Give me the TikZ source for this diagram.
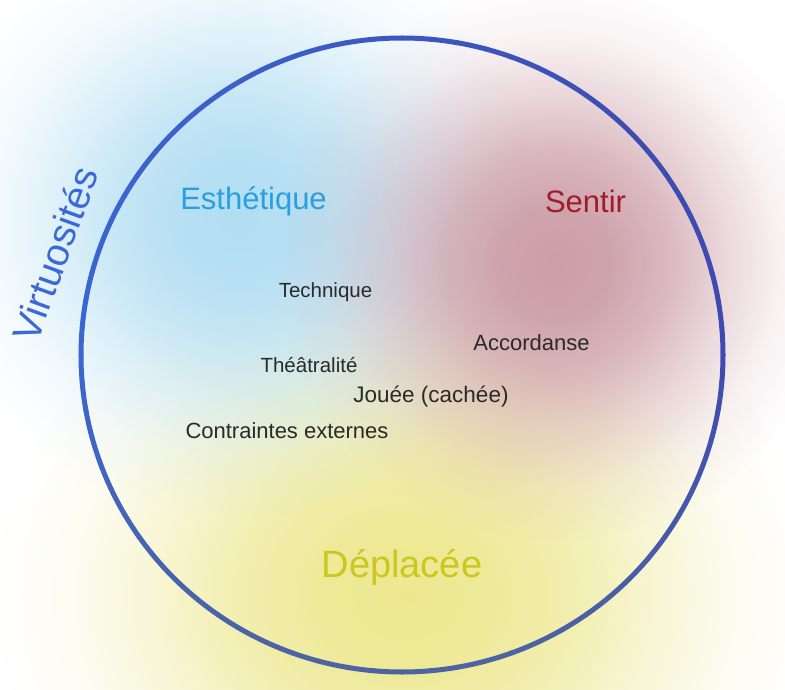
\documentclass[tikz,border=0pt]{standalone}
\usepackage{fontspec}
\setmainfont{Liberation Sans}
\usetikzlibrary{fadings}

\definecolor{esthblue}{HTML}{2A9FDD}
\definecolor{sentred}{HTML}{A11C2A}
\definecolor{deplyellow}{HTML}{CCC71E}
\definecolor{virtblue}{HTML}{3B69D4}
\definecolor{wordgray}{HTML}{2A2A2A}
\definecolor{blobblue}{HTML}{AEDCF2}
\definecolor{blobred}{HTML}{C7939E}
\definecolor{blobyellow}{HTML}{EDE890}
\definecolor{ringleft}{HTML}{3A66D0}
\definecolor{ringright}{HTML}{3E4AAF}
\definecolor{ringbottom}{HTML}{4E64A2}

% soft round fading for the coloured areas (25bp is the edge of the path)
\pgfdeclareradialshading{blobshading}{\pgfpointorigin}{color(0bp)=(white); color(5bp)=(white!93!black); color(10bp)=(white!72!black); color(15bp)=(white!40!black); color(20bp)=(white!13!black); color(25bp)=(black); color(50bp)=(black)}
\pgfdeclarefading{blobfade}{\pgfuseshading{blobshading}}

\tikzset{
  bigword/.style={inner sep=0pt,anchor=base,font=\fontsize{31}{37}\selectfont},
  smallword/.style={inner sep=0pt,anchor=base,text=wordgray,font=\fontsize{#1}{24}\selectfont},
  smallword/.default=20.5,
  blob/.style={path fading=blobfade,fill opacity=#1},
  ring/.style={line width=5pt,line cap=round}
}

\begin{document}
\begin{tikzpicture}[x=1pt,y=-1pt]
\useasboundingbox (0,0) rectangle (785,690);
\clip (0,0) rectangle (785,690);
\fill[white] (0,0) rectangle (785,690);
\coordinate (o) at (402,355);
%The blurred coloured areas:
\fill[blobyellow,blob=1] (405,595) circle[x radius=410, y radius=350];
\fill[blobblue,blob=0.95] (238,218) circle[x radius=310, y radius=300];
\fill[blobred,blob=0.9] (556,262) circle[x radius=280, y radius=280];
%The ring, coloured piece by piece:
\foreach \a in {0,5,...,355}{
  \pgfmathsetmacro\lr{50*(1-cos(\a+2.5))}
  \pgfmathsetmacro\bt{100*max(0,sin(\a+2.5))}
  \colorlet{ringh}{ringleft!\lr!ringright}
  \colorlet{ringc}{ringbottom!\bt!ringh}
  \draw[ring,ringc] (o) ++(\a:321 and 317) arc[start angle=\a, end angle=\a+5, x radius=321, y radius=317];
}
%Words:
\node[bigword,text=esthblue] (esth) at (253.5,210) {Esthétique};
\node[bigword,text=sentred] (sent) at (585.5,212) {Sentir};
\node[bigword,text=deplyellow,font=\fontsize{38}{44}\selectfont] (depl) at (402,577) {Déplacée};
\node[text=virtblue,inner sep=0pt,rotate=70,font=\fontsize{39}{46}\selectfont] (virt) at (55,254) {Virtuosités};
\node[smallword] (tech) at (325.5,297) {Technique};
\node[smallword=22] (acco) at (531.5,350) {Accordanse};
\node[smallword] (thea) at (309,372) {Théâtralité};
\node[smallword=22.5] (joue) at (431,402) {Jouée (cachée)};
\node[smallword=22] (cont) at (287,438) {Contraintes externes};
\end{tikzpicture}
\end{document}
